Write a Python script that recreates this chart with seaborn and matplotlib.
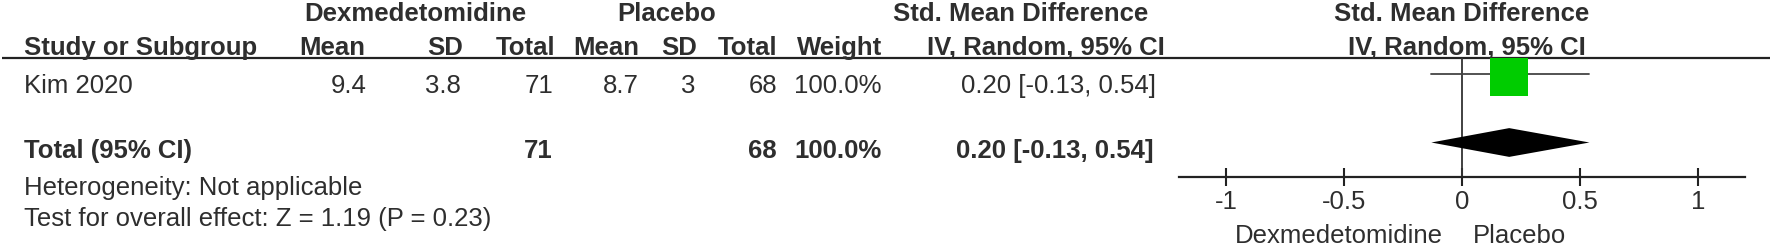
import matplotlib
matplotlib.use("Agg")
import matplotlib.pyplot as plt
from matplotlib.patches import Rectangle, Polygon
import seaborn as sns
import pandas as pd

# ---------------- data ----------------
studies = ["Kim 2020"]
dex_mean = [9.4]
dex_sd = [3.8]
dex_total = [71]
pla_mean = [8.7]
pla_sd = [3]
pla_total = [68]
weights = [100.0]
smd = [0.20]
ci_low = [-0.13]
ci_high = [0.54]

total_dex = 71
total_pla = 68
total_weight = 100.0
total_smd = 0.20
total_low = -0.13
total_high = 0.54

heterogeneity = "Heterogeneity: Not applicable"
overall_test = "Test for overall effect: Z = 1.19 (P = 0.23)"
x_ticks = [-1, -0.5, 0, 0.5, 1]
x_tick_labels = ["-1", "-0.5", "0", "0.5", "1"]
favours = ["Dexmedetomidine", "Placebo"]

# ---------------- style ----------------
sns.set_theme(style="white")
plt.rcParams["font.family"] = ["Liberation Sans", "DejaVu Sans"]
TXT = "#2e2e2e"
FS = 18.5

W, H = 1772, 247
fig = plt.figure(figsize=(W / 100, H / 100), dpi=100)

# text layer in pixel coordinates
tax = fig.add_axes([0, 0, 1, 1])
tax.set_xlim(0, W)
tax.set_ylim(H, 0)
tax.axis("off")


def t(x, y, s, ha="left", bold=False):
    tax.text(x, y, s, ha=ha, va="baseline", fontsize=FS, color=TXT,
             fontweight="bold" if bold else "normal")


# header row 1
t(415, 21, "Dexmedetomidine", "center", True)
t(667, 21, "Placebo", "center", True)
t(1021, 21, "Std. Mean Difference", "center", True)
t(1462, 21, "Std. Mean Difference", "center", True)
# header row 2
t(24, 55, "Study or Subgroup", "left", True)
t(365, 55, "Mean", "right", True)
t(463, 55, "SD", "right", True)
t(555, 55, "Total", "right", True)
t(639, 55, "Mean", "right", True)
t(697, 55, "SD", "right", True)
t(777, 55, "Total", "right", True)
t(882, 55, "Weight", "right", True)
t(1165, 55, "IV, Random, 95% CI", "right", True)
t(1467, 55, "IV, Random, 95% CI", "center", True)

tax.plot([2, 1770], [58, 58], color="#222222", lw=1.6, solid_capstyle="butt")

# study rows
for i, name in enumerate(studies):
    y = 93 + i * 35
    t(24, y, name)
    t(367, y, f"{dex_mean[i]:g}", "right")
    t(461, y, f"{dex_sd[i]:g}", "right")
    t(553, y, f"{dex_total[i]}", "right")
    t(639, y, f"{pla_mean[i]:g}", "right")
    t(695, y, f"{pla_sd[i]:g}", "right")
    t(777, y, f"{pla_total[i]}", "right")
    t(882, y, f"{weights[i]:.1f}%", "right")
    t(1156, y, f"{smd[i]:.2f} [{ci_low[i]:.2f}, {ci_high[i]:.2f}]", "right")

# total row
t(24, 158, "Total (95% CI)", "left", True)
t(553, 158, f"{total_dex}", "right", True)
t(777, 158, f"{total_pla}", "right", True)
t(882, 158, f"{total_weight:.1f}%", "right", True)
t(1154, 158, f"{total_smd:.2f} [{total_low:.2f}, {total_high:.2f}]", "right", True)

t(24, 195, heterogeneity)
t(24, 226, overall_test)

t(1339, 243, favours[0], "center")
t(1520, 243, favours[1], "center")

# ---------------- forest panel ----------------
px_unit = 236.0
x0 = 1462.0
xmin, xmax = -1.2, 1.2
left = (x0 + xmin * px_unit) / W
width = (xmax - xmin) * px_unit / W
top_px, bot_px = 58, 177
fax = fig.add_axes([left, 1 - bot_px / H, width, (bot_px - top_px) / H])
fax.patch.set_alpha(0)
row_px = 68.5
fax.set_xlim(xmin, xmax)
fax.set_ylim((bot_px - 74) / row_px, (top_px - 74) / row_px)

for s in ["top", "left", "right"]:
    fax.spines[s].set_visible(False)
fax.spines["bottom"].set_color("#222222")
fax.spines["bottom"].set_linewidth(1.6)
fax.set_yticks([])
fax.set_xticks(x_ticks)
fax.set_xticklabels(x_tick_labels)
fax.tick_params(axis="x", direction="inout", length=13, width=1.5,
                color="#222222", labelsize=FS, labelcolor=TXT, pad=3,
                bottom=True)

fax.axvline(0, color="#333333", lw=1.3, zorder=1)

ci_df = pd.DataFrame({"x": [ci_low[0], ci_high[0]], "row": [0, 0]})
sns.lineplot(data=ci_df, x="x", y="row", ax=fax, color="#444444", lw=1.3,
             sort=False, legend=False, zorder=2)
fax.set_xlabel("")
fax.set_ylabel("")

for i in range(len(studies)):
    half_w = 0.08 * weights[i] / 100
    fax.add_patch(Rectangle((smd[i] - half_w, i - 0.235), 2 * half_w, 0.555,
                            facecolor="#00cc00", edgecolor="none", zorder=3))

dh = 0.21
fax.add_patch(Polygon([(total_low, 1), (total_smd, 1 - dh), (total_high, 1),
                       (total_smd, 1 + dh)], closed=True,
                      facecolor="black", edgecolor="none", zorder=3))

fig.savefig("out.png", dpi=100, facecolor="white")
